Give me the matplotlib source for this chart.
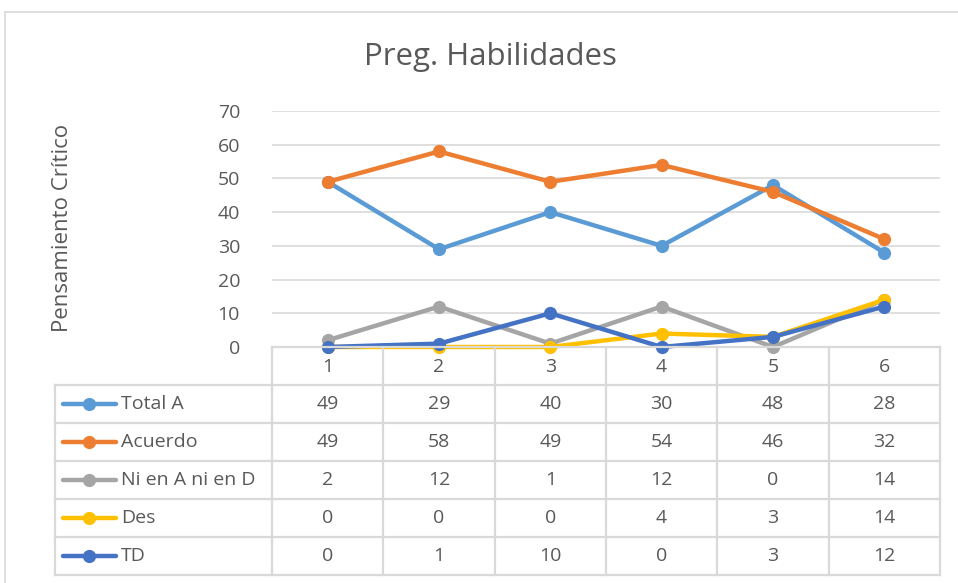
import matplotlib
matplotlib.use("Agg")
import matplotlib.pyplot as plt
from matplotlib.lines import Line2D
import matplotlib.transforms as mtransforms

# ---- data ----
categories = ["1", "2", "3", "4", "5", "6"]
series_names = ["Total A", "Acuerdo", "Ni en A ni en D", "Des", "TD"]
total_a = [49, 29, 40, 30, 48, 28]
acuerdo = [49, 58, 49, 54, 46, 32]
ni_ni = [2, 12, 1, 12, 0, 14]
des = [0, 0, 0, 4, 3, 14]
td = [0, 1, 10, 0, 3, 12]
series_values = [total_a, acuerdo, ni_ni, des, td]
colors = ["#5B9BD5", "#ED7D31", "#A5A5A5", "#FFC000", "#4472C4"]
y_ticks = [0, 10, 20, 30, 40, 50, 60, 70]
title = "Preg. Habilidades"
y_label = "Pensamiento Crítico"

FONT = ["Open Sans", "DejaVu Sans"]
plt.rcParams["font.family"] = FONT
TXT = "#595959"
GRID = "#D9D9D9"
FS = 14

W, H = 958, 583
fig = plt.figure(figsize=(W / 100, H / 100), dpi=100)

def fx(px):
    return px / W

def fy(py):
    return 1 - py / H

# chart border
fig.add_artist(Line2D([fx(5), fx(5)], [fy(12), fy(583)], color=GRID, lw=1.2))
fig.add_artist(Line2D([fx(5), fx(958)], [fy(12), fy(12)], color=GRID, lw=1.2))

# main plot axes
left, right, top, bottom = 272, 940, 111, 347
ax = fig.add_axes([fx(left), fy(bottom), fx(right - left), fy(top) - fy(bottom)])
x = list(range(1, len(categories) + 1))
ax.set_xlim(0.5, len(categories) + 0.5)
ax.set_ylim(0, 70)
ax.set_yticks(y_ticks)
ax.set_yticklabels([str(t) for t in y_ticks], color=TXT, fontsize=FS)
ax.tick_params(axis="y", length=0, pad=23)
ax.set_xticks([])
for s in ax.spines.values():
    s.set_visible(False)
ax.grid(axis="y", color=GRID, lw=1.2)
ax.set_axisbelow(True)
ax.patch.set_alpha(0)

for vals, c in zip(series_values, colors):
    ax.plot(x, vals, color=c, lw=3.2, marker="o", ms=9.5, markeredgewidth=0,
            solid_joinstyle="round", clip_on=False, zorder=3)

fig.text(fx(490), fy(57), title, ha="center", va="center", fontsize=22.5,
         color=TXT)
fig.text(fx(63), fy(228), y_label, ha="center", va="center", rotation=90,
         fontsize=16, color=TXT)

# ---- data table ----
tab_top = bottom
row_h = 38
n_rows = len(series_names)
header_bottom = tab_top + row_h
tab_bottom = header_bottom + row_h * n_rows
legend_left = 55

line_kw = dict(color=GRID, lw=1.6)
blend = mtransforms.blended_transform_factory(ax.transData, fig.transFigure)
for i in range(len(categories) + 1):
    xv = 0.5 + i
    fig.add_artist(Line2D([xv, xv], [fy(tab_top), fy(tab_bottom)], transform=blend, **line_kw))
fig.add_artist(Line2D([fx(legend_left)] * 2, [fy(header_bottom), fy(tab_bottom)], **line_kw))
fig.add_artist(Line2D([fx(left), fx(right)], [fy(tab_top), fy(tab_top)], **line_kw))
for r in range(n_rows + 1):
    yy = fy(header_bottom + r * row_h)
    fig.add_artist(Line2D([fx(legend_left), fx(right)], [yy, yy], **line_kw))

for i, cat in enumerate(categories):
    fig.text(x[i], fy(tab_top + row_h / 2 + 1), cat, transform=blend,
             ha="center", va="center", fontsize=FS, color=TXT)

for r, (name, vals, c) in enumerate(zip(series_names, series_values, colors)):
    yc = fy(header_bottom + r * row_h + row_h / 2)
    fig.add_artist(Line2D([fx(63), fx(116)], [yc, yc], color=c, lw=3.2,
                          solid_capstyle="round"))
    fig.add_artist(Line2D([fx(89)], [yc], color=c, marker="o", ms=9.5,
                          markeredgewidth=0, lw=0))
    fig.text(fx(121), yc, name, ha="left", va="center", fontsize=FS, color=TXT)
    for i, v in enumerate(vals):
        fig.text(x[i], yc, str(v), transform=blend, ha="center", va="center",
                 fontsize=FS, color=TXT)

fig.savefig("out.png", dpi=100)
